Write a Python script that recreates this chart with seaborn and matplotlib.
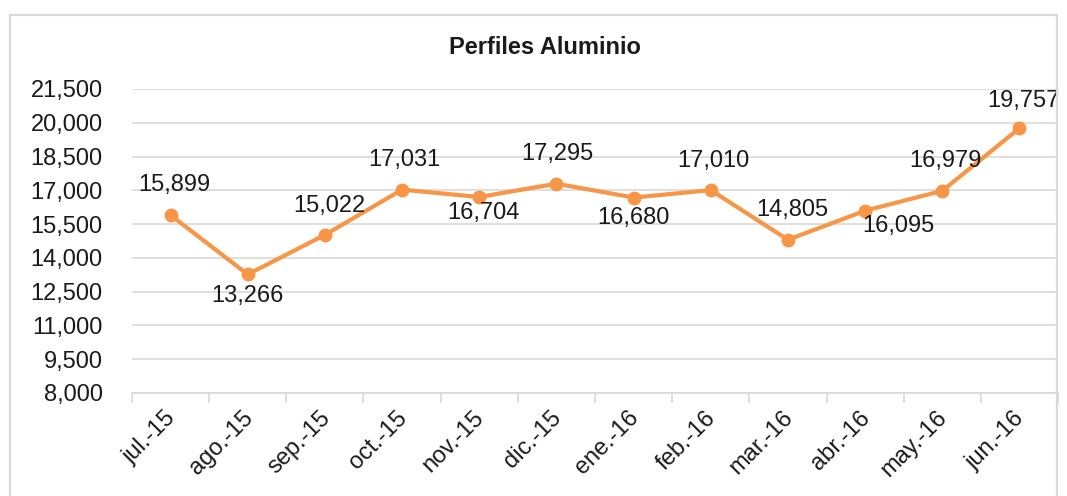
"""
Perfiles Aluminio: evolución mensual jul.-15 a jun.-16.
"""

import matplotlib
matplotlib.use('Agg')
import matplotlib.pyplot as plt
from matplotlib.patches import Rectangle
from matplotlib.ticker import FixedLocator, FuncFormatter
from matplotlib.transforms import ScaledTranslation
import pandas as pd
import seaborn as sns

# Datos
meses = ['jul.-15', 'ago.-15', 'sep.-15', 'oct.-15', 'nov.-15', 'dic.-15',
         'ene.-16', 'feb.-16', 'mar.-16', 'abr.-16', 'may.-16', 'jun.-16']
valores = [15899, 13266, 15022, 17031, 16704, 17295,
           16680, 17010, 14805, 16095, 16979, 19757]
y_ticks = [8000, 9500, 11000, 12500, 14000, 15500, 17000, 18500, 20000, 21500]

# Desplazamiento de cada etiqueta respecto a su punto (pixeles)
label_offsets = [(4, 30), (0, -22), (4, 29), (2, 30), (4, -16), (1, 30),
                 (0, -20), (3, 29), (4, 30), (33, -15), (3, 30), (4, 27)]

NARANJA = '#F79646'
GRIS = '#D9D9D9'
TEXTO = '#1A1A1A'

sns.set_theme(style='white')
plt.rcParams['font.family'] = ['Liberation Sans', 'DejaVu Sans']

df = pd.DataFrame({'mes': meses, 'valor': valores})

fig = plt.figure(figsize=(10.67, 4.96), dpi=100)
ax = fig.add_axes([132 / 1067, 1 - 393 / 496, (1058 - 132) / 1067, (393 - 89) / 496])

# Marco del gráfico
fig.patches.append(Rectangle((10 / 1067, -0.1), (1057 - 10) / 1067, 1.1 - 15 / 496,
                             transform=fig.transFigure, fill=False,
                             edgecolor=GRIS, linewidth=1.6, zorder=0))

sns.lineplot(data=df, x='mes', y='valor', sort=False, ax=ax,
             color=NARANJA, linewidth=3, marker='o', markersize=10,
             markeredgewidth=0, zorder=3)

for i, (v, (dx, dy)) in enumerate(zip(valores, label_offsets)):
    ax.annotate(f'{v:,}', xy=(i, v), xytext=(dx, dy), textcoords='offset pixels',
                ha='center', va='center', fontsize=17, color=TEXTO, zorder=4)

ax.set_xlim(-0.5, len(meses) - 0.5)
ax.set_ylim(y_ticks[0], y_ticks[-1])
ax.set_yticks(y_ticks)
ax.yaxis.set_major_formatter(FuncFormatter(lambda v, p: f'{int(v):,}'))
ax.grid(axis='y', color=GRIS, linewidth=1.2)
ax.set_axisbelow(True)

ax.set_xticks(range(len(meses)))
ax.set_xticklabels(meses, rotation=45, ha='right', rotation_mode='anchor')
ax.xaxis.set_minor_locator(FixedLocator([i - 0.5 for i in range(len(meses) + 1)]))
ax.tick_params(axis='x', which='major', length=0, pad=10, labelsize=17, labelcolor=TEXTO)
ax.tick_params(axis='x', which='minor', length=7, width=1.2, color=GRIS, bottom=True)
ax.tick_params(axis='y', length=0, pad=21, labelsize=17, labelcolor=TEXTO)

shift = ScaledTranslation(-6 / 100, 0, fig.dpi_scale_trans)
for lbl in ax.get_xticklabels():
    lbl.set_transform(lbl.get_transform() + shift)

for side in ['top', 'right', 'left']:
    ax.spines[side].set_visible(False)
ax.spines['bottom'].set_color(GRIS)
ax.spines['bottom'].set_linewidth(1.2)

ax.set_xlabel('')
ax.set_ylabel('')
fig.text(545 / 1067, 1 - 47 / 496, 'Perfiles Aluminio', ha='center', va='center',
         fontsize=17, fontweight='bold', color=TEXTO)

fig.savefig('out.png', dpi=100)
